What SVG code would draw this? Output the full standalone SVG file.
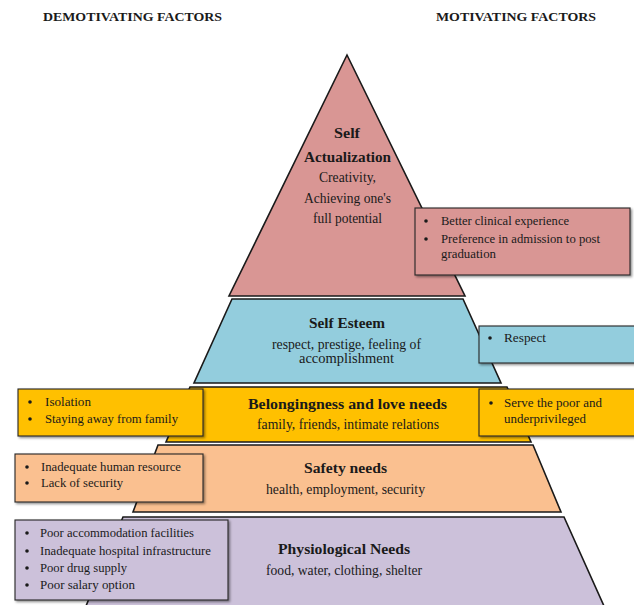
<svg xmlns="http://www.w3.org/2000/svg" width="634" height="605" viewBox="0 0 634 605">
<defs>
<filter id="sh" x="-5%" y="-5%" width="115%" height="125%">
<feDropShadow dx="1.5" dy="1.5" stdDeviation="0.8" flood-color="#000" flood-opacity="0.45"/>
</filter>
<style>
.lvl{stroke:#1a1a1a;stroke-width:1.6;stroke-linejoin:miter}
.box{stroke:#262626;stroke-width:1.1;filter:url(#sh)}
.pink{fill:#D99694}
.blue{fill:#93CDDD}
.yel{fill:#FFC000}
.org{fill:#FAC090}
.pur{fill:#CCC1DA}
text{font-family:"Liberation Serif","Times New Roman",serif;fill:#1a1a1a}
.hd{font-size:13.5px;font-weight:bold}
.tt{font-size:15px;font-weight:bold}
.sb{font-size:14px}
.bl{font-size:13px}
.dot{fill:#1a1a1a}
</style>
</defs>
<rect width="634" height="605" fill="#fff"/>
<g id="headers">
<text class="hd" x="43" y="21" textLength="179" lengthAdjust="spacingAndGlyphs">DEMOTIVATING FACTORS</text>
<text class="hd" x="436" y="21" textLength="160" lengthAdjust="spacingAndGlyphs">MOTIVATING FACTORS</text>
</g>
<g id="self-actualization">
<polygon class="lvl pink" points="347,55 465,296 229,296"/>
<text class="tt" x="334" y="138" textLength="26" lengthAdjust="spacingAndGlyphs">Self</text>
<text class="tt" x="304" y="162" textLength="87" lengthAdjust="spacingAndGlyphs">Actualization</text>
<text class="sb" x="319" y="182" textLength="57" lengthAdjust="spacingAndGlyphs">Creativity,</text>
<text class="sb" x="304" y="203" textLength="87" lengthAdjust="spacingAndGlyphs">Achieving one's</text>
<text class="sb" x="313" y="223" textLength="69" lengthAdjust="spacingAndGlyphs">full potential</text>
</g>
<g id="self-esteem">
<polygon class="lvl blue" points="232,299 463,299 501,383 194,383"/>
<text class="tt" x="309" y="328" textLength="76" lengthAdjust="spacingAndGlyphs">Self Esteem</text>
<text class="sb" x="272" y="349" textLength="149" lengthAdjust="spacingAndGlyphs">respect, prestige, feeling of</text>
<text class="sb" x="299" y="363" textLength="95" lengthAdjust="spacingAndGlyphs">accomplishment</text>
</g>
<g id="belongingness">
<polygon class="lvl yel" points="190,387 507,387 531,442 166,442"/>
<text class="tt" x="248" y="409" textLength="199" lengthAdjust="spacingAndGlyphs">Belongingness and love needs</text>
<text class="sb" x="257" y="429" textLength="182" lengthAdjust="spacingAndGlyphs">family, friends, intimate relations</text>
</g>
<g id="safety">
<polygon class="lvl org" points="158,445 533,445 561,512 133,512"/>
<text class="tt" x="304" y="473" textLength="83" lengthAdjust="spacingAndGlyphs">Safety needs</text>
<text class="sb" x="266" y="494" textLength="159" lengthAdjust="spacingAndGlyphs">health, employment, security</text>
</g>
<g id="physiological">
<polygon class="lvl pur" points="123,517 564,517 604,606 86,606"/>
<text class="tt" x="278" y="554" textLength="132" lengthAdjust="spacingAndGlyphs">Physiological  Needs</text>
<text class="sb" x="266" y="575" textLength="156" lengthAdjust="spacingAndGlyphs">food, water, clothing, shelter</text>
</g>
<g id="motivating-self-actualization">
<rect class="box pink" x="415" y="208" width="215" height="67"/>
<circle class="dot" cx="426" cy="221" r="1.8"/>
<circle class="dot" cx="426" cy="239" r="1.8"/>
<text class="bl" x="441" y="225" textLength="128" lengthAdjust="spacingAndGlyphs">Better clinical experience</text>
<text class="bl" x="441" y="243" textLength="159" lengthAdjust="spacingAndGlyphs">Preference in admission to post</text>
<text class="bl" x="441" y="258" textLength="55" lengthAdjust="spacingAndGlyphs">graduation</text>
</g>
<g id="motivating-esteem">
<rect class="box blue" x="479" y="326" width="165" height="37"/>
<circle class="dot" cx="490" cy="338" r="1.8"/>
<text class="bl" x="504" y="342" textLength="42" lengthAdjust="spacingAndGlyphs">Respect</text>
</g>
<g id="motivating-belonging">
<rect class="box yel" x="479" y="389" width="165" height="47"/>
<circle class="dot" cx="491" cy="403" r="1.8"/>
<text class="bl" x="504" y="407" textLength="98" lengthAdjust="spacingAndGlyphs">Serve the poor and</text>
<text class="bl" x="504" y="423" textLength="82" lengthAdjust="spacingAndGlyphs">underprivileged</text>
</g>
<g id="demotivating-belonging">
<rect class="box yel" x="18" y="389" width="185" height="47"/>
<circle class="dot" cx="30" cy="402" r="1.8"/>
<circle class="dot" cx="30" cy="419" r="1.8"/>
<text class="bl" x="45" y="406" textLength="46" lengthAdjust="spacingAndGlyphs">Isolation</text>
<text class="bl" x="45" y="423" textLength="133" lengthAdjust="spacingAndGlyphs">Staying away from family</text>
</g>
<g id="demotivating-safety">
<rect class="box org" x="15" y="454" width="188" height="48"/>
<circle class="dot" cx="27" cy="467" r="1.8"/>
<circle class="dot" cx="27" cy="483" r="1.8"/>
<text class="bl" x="41" y="471" textLength="140" lengthAdjust="spacingAndGlyphs">Inadequate human resource</text>
<text class="bl" x="41" y="487" textLength="82" lengthAdjust="spacingAndGlyphs">Lack of security</text>
</g>
<g id="demotivating-physiological">
<rect class="box pur" x="15" y="520" width="213" height="80"/>
<circle class="dot" cx="27" cy="533" r="1.8"/>
<circle class="dot" cx="27" cy="551" r="1.8"/>
<circle class="dot" cx="27" cy="568" r="1.8"/>
<circle class="dot" cx="27" cy="585" r="1.8"/>
<text class="bl" x="40" y="537" textLength="154" lengthAdjust="spacingAndGlyphs">Poor accommodation facilities</text>
<text class="bl" x="40" y="555" textLength="171" lengthAdjust="spacingAndGlyphs">Inadequate hospital infrastructure</text>
<text class="bl" x="40" y="572" textLength="87" lengthAdjust="spacingAndGlyphs">Poor drug supply</text>
<text class="bl" x="40" y="589" textLength="95" lengthAdjust="spacingAndGlyphs">Poor salary option</text>
</g>
<g id="connectors"></g>
</svg>
